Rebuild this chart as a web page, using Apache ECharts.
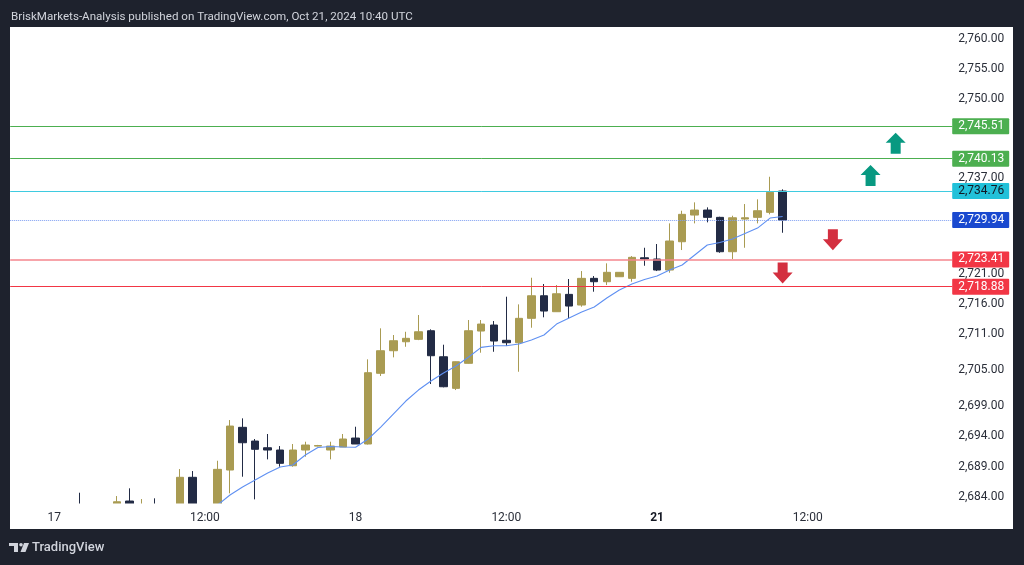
<!DOCTYPE html>
<html>
<head>
<meta charset="utf-8">
<script src="https://cdn.jsdelivr.net/npm/echarts@6/dist/echarts.min.js"></script>
<style>
  html, body { margin: 0; padding: 0; background: #1e222d; }
  #chart { width: 1024px; height: 565px; }
</style>
</head>
<body>
<div id="chart"></div>
<script>
// hourly sessions shown on the time axis (date, first hour, last hour)
const sessions = [['10-16', 21, 23], ['10-17', 0, 23], ['10-18', 0, 20], ['10-20', 21, 23], ['10-21', 0, 23]];
const xTickLabels = {
  '10-17 00:00': '17', '10-17 12:00': '12:00',
  '10-18 00:00': '18', '10-18 12:00': '12:00',
  '10-21 00:00': '21', '10-21 12:00': '12:00'
};
const firstCandle = '10-17 00:00';

// XAUUSD 1h, 17 Oct 00:00 -> 21 Oct 10:00 (index 0..58)
const opens = [2681.6, 2681.0, 2682.0, 2681.2, 2680.6, 2681.8, 2683.28, 2681.9, 2682.7, 2681.4,
  2681.0, 2687.22, 2681.5, 2682.3, 2688.43, 2695.52, 2693.24, 2692.13, 2691.75, 2689.14,
  2691.75, 2692.40, 2691.75, 2692.25, 2693.74, 2692.75, 2704.49, 2708.24, 2709.73, 2710.13,
  2711.56, 2707.24, 2701.99, 2706.15, 2711.51, 2712.51, 2709.97, 2709.57, 2713.62, 2717.37,
  2714.72, 2717.60, 2715.83, 2720.26, 2719.70, 2720.53, 2720.26, 2723.68, 2723.47, 2721.64,
  2726.34, 2730.77, 2731.60, 2730.39, 2724.68, 2730.11, 2730.39, 2731.22, 2734.76];
const closes = [2681.0, 2681.8, 2681.2, 2680.6, 2681.5, 2683.16, 2682.0, 2682.7, 2682.2, 2680.9,
  2687.22, 2681.5, 2682.2, 2688.54, 2695.73, 2692.96, 2691.87, 2691.75, 2689.54, 2691.75,
  2692.58, 2692.50, 2692.41, 2693.58, 2692.75, 2704.59, 2708.24, 2709.90, 2710.30, 2711.39,
  2707.41, 2702.26, 2706.41, 2711.56, 2712.67, 2709.85, 2709.57, 2713.62, 2717.37, 2714.83,
  2717.70, 2715.66, 2720.26, 2719.70, 2721.26, 2721.26, 2723.75, 2723.47, 2721.64, 2726.46,
  2730.89, 2731.60, 2730.39, 2724.68, 2730.32, 2730.32, 2731.49, 2734.54, 2729.94];
const lows = [2680.4, 2680.6, 2680.5, 2680.0, 2680.2, 2681.3, 2681.5, 2681.5, 2681.8, 2680.1,
  2680.5, 2681.0, 2681.0, 2682.0, 2684.56, 2687.32, 2683.56, 2690.20, 2688.98, 2688.98,
  2690.64, 2692.35, 2690.20, 2692.25, 2692.75, 2692.67, 2704.04, 2707.14, 2708.90, 2710.00,
  2702.71, 2702.16, 2701.71, 2706.10, 2707.91, 2708.07, 2709.02, 2704.75, 2712.06, 2713.79,
  2714.70, 2713.62, 2715.55, 2718.04, 2719.15, 2720.50, 2719.70, 2722.35, 2721.47, 2721.19,
  2724.96, 2729.39, 2729.56, 2724.51, 2723.47, 2725.34, 2729.39, 2730.89, 2727.83];
const highs = [2682.3, 2682.4, 2684.66, 2682.0, 2682.2, 2684.11, 2685.39, 2683.61, 2683.73, 2682.5,
  2688.59, 2688.26, 2682.6, 2689.97, 2696.73, 2697.01, 2693.58, 2694.41, 2692.41, 2692.75,
  2693.13, 2692.60, 2693.13, 2694.41, 2695.62, 2706.81, 2711.96, 2710.85, 2711.39, 2714.17,
  2711.79, 2709.24, 2706.45, 2713.34, 2713.34, 2713.17, 2717.21, 2715.94, 2720.36, 2719.32,
  2719.15, 2720.15, 2721.47, 2720.64, 2722.75, 2721.30, 2723.96, 2725.34, 2725.96, 2729.39,
  2731.49, 2732.88, 2732.05, 2730.49, 2730.66, 2732.60, 2733.38, 2737.13, 2735.04];
// moving average (blue line), starts at index 13
const ema = ['-', '-', '-', '-', '-', '-', '-', '-', '-', '-', '-', '-', '-',
  2682.6, 2684.28, 2685.60, 2686.77, 2687.93, 2688.93, 2689.26, 2690.92, 2692.17, 2692.33,
  2692.25, 2692.20, 2693.58, 2695.57, 2697.73, 2699.89, 2701.71, 2703.21, 2704.54, 2705.70,
  2707.20, 2708.80, 2709.07, 2709.07, 2709.35, 2710.02, 2710.85, 2712.67, 2713.67, 2714.67,
  2715.50, 2717.00, 2718.32, 2719.32, 2720.06, 2720.64, 2721.64, 2722.47, 2724.13, 2725.79,
  2726.21, 2726.79, 2727.70, 2728.61, 2730.27, 2730.52];

// price levels drawn across the chart
const levels = [2745.51, 2740.13, 2734.76, 2729.94, 2723.41, 2718.88];
const levelKinds = ['target', 'target', 'resist', 'last', 'support2', 'support'];
const yTickValues = [2760, 2755, 2750, 2737, 2721, 2716, 2711, 2705, 2699, 2694, 2689, 2684];

// arrows [time, price]
const upArrows = [['10-21 19:00', 2742.68], ['10-21 17:00', 2737.33]];
const downArrows = [['10-21 14:00', 2726.67], ['10-21 10:00', 2721.14]];

const categories = [];
sessions.forEach(([day, h0, h1]) => {
  for (let h = h0; h <= h1; h++) {
    categories.push(day + ' ' + String(h).padStart(2, '0') + ':00');
  }
});
const offset = categories.indexOf(firstCandle);

const candleData = categories.map((c, i) => {
  const k = i - offset;
  if (k < 0 || k >= opens.length) return '-';
  return [opens[k], closes[k], lows[k], highs[k]];
});
const emaData = categories.map((c, i) => {
  const k = i - offset;
  return (k < 0 || k >= ema.length) ? '-' : ema[k];
});

const fmt = v => v.toLocaleString('en-US', { minimumFractionDigits: 2, maximumFractionDigits: 2 });

const levelStyle = {
  target: { line: '#4caf50', box: '#4caf50', text: '#ffffff', type: 'solid', width: 1 },
  resist: { line: '#3fcbe0', box: '#22c1d9', text: '#131722', type: 'solid', width: 1 },
  last: { line: '#7e9ef2', box: '#1a49cf', text: '#ffffff', type: 'dotted', width: 1 },
  support2: { line: '#f4868e', box: '#f23645', text: '#ffffff', type: 'solid', width: 1.5 },
  support: { line: '#f23645', box: '#f23645', text: '#ffffff', type: 'solid', width: 1 }
};

const font = 'Roboto, "Noto Sans", sans-serif';
const chart = echarts.init(document.getElementById('chart'));

const option = {
  backgroundColor: '#1e222d',
  animation: false,
  title: {
    text: 'BriskMarkets-Analysis published on TradingView.com, Oct 21, 2024 10:40 UTC',
    left: 6, top: 6,
    textStyle: { color: '#d1d4dc', fontSize: 11.6, fontWeight: 'normal', fontFamily: font }
  },
  graphic: [
    { type: 'rect', z: -10, shape: { x: 10, y: 27, width: 1003, height: 502 }, style: { fill: '#ffffff' } },
    // hides the parts of candles that fall under the price range
    { type: 'rect', z: 5, shape: { x: 10, y: 503.5, width: 1003, height: 25.5 }, style: { fill: '#ffffff' } },
    {
      type: 'group', left: 9, top: 543,
      children: [
        { type: 'polygon', shape: { points: [[0, 0], [9, 0], [9, 9], [5, 9], [5, 3], [0, 3]] }, style: { fill: '#d1d4dc' } },
        { type: 'circle', shape: { cx: 12, cy: 1.8, r: 1.8 }, style: { fill: '#d1d4dc' } },
        { type: 'polygon', shape: { points: [[15, 0], [20, 0], [16.5, 9], [11.5, 9]] }, style: { fill: '#d1d4dc' } }
      ]
    },
    {
      type: 'text', left: 32, top: 541,
      style: { text: 'TradingView', fill: '#d1d4dc', fontSize: 13, fontWeight: 500, fontFamily: font }
    }
  ],
  grid: { left: 10.2, right: 71.8, top: 27, bottom: 61.5, containLabel: false },
  xAxis: {
    type: 'category',
    data: categories,
    boundaryGap: true,
    z: 10,
    axisLine: { show: false },
    axisTick: { show: false },
    splitLine: { show: false },
    axisLabel: {
      interval: 0,
      margin: 8,
      color: '#2a2e39',
      fontSize: 12,
      fontFamily: font,
      formatter: v => {
        const t = xTickLabels[v];
        if (!t) return '';
        return t === '21' ? '{b|' + t + '}' : t;
      },
      rich: { b: { fontWeight: 'bold', fontSize: 12, color: '#131722', fontFamily: font } }
    }
  },
  yAxis: {
    type: 'value',
    position: 'right',
    min: 2682.87,
    max: 2762,
    scale: true,
    axisLine: { show: false },
    axisTick: { show: false },
    splitLine: { show: false },
    axisLabel: {
      customValues: yTickValues,
      margin: 6,
      color: '#2a2e39',
      fontSize: 12,
      fontFamily: font,
      formatter: v => fmt(v)
    }
  },
  series: [
    {
      type: 'candlestick',
      data: candleData,
      barWidth: 8,
      clip: true,
      itemStyle: {
        color: '#a99b52', color0: '#222b45',
        borderColor: '#a99b52', borderColor0: '#222b45',
        borderWidth: 1
      },
      markLine: {
        symbol: 'none',
        silent: true,
        animation: false,
        data: levels.map((v, i) => {
          const s = levelStyle[levelKinds[i]];
          return {
            yAxis: v,
            lineStyle: { color: s.line, type: s.type, width: s.width },
            label: {
              show: true, position: 'end', distance: 0,
              formatter: fmt(v),
              backgroundColor: s.box, color: s.text,
              padding: [2, 5, 2, 6], borderRadius: 1,
              fontSize: 12, fontFamily: font
            }
          };
        })
      }
    },
    {
      type: 'line',
      data: emaData,
      showSymbol: false,
      smooth: false,
      clip: true,
      lineStyle: { color: '#5f90f2', width: 1.1 },
      z: 3
    },
    {
      type: 'scatter',
      data: upArrows,
      symbol: 'path://M10 0 L20 10 L15 10 L15 21 L5 21 L5 10 L0 10 Z',
      symbolSize: [20, 21],
      itemStyle: { color: '#089981', opacity: 1 },
      z: 4
    },
    {
      type: 'scatter',
      data: downArrows,
      symbol: 'path://M5 0 L15 0 L15 10 L20 10 L10 21 L0 10 L5 10 Z',
      symbolSize: [20, 21],
      itemStyle: { color: '#d32f3f', opacity: 1 },
      z: 4
    }
  ]
};

chart.setOption(option);
</script>
</body>
</html>
